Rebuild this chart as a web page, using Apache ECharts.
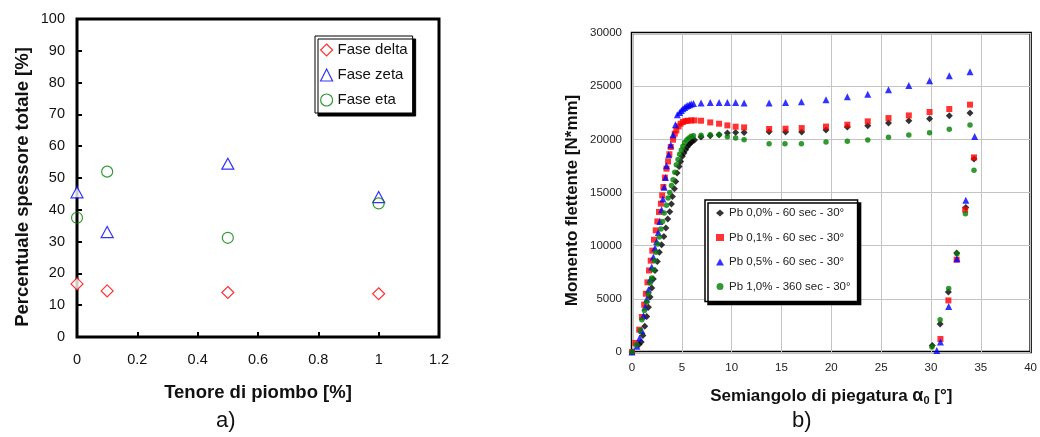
<!DOCTYPE html>
<html><head><meta charset="utf-8">
<script src="https://cdn.jsdelivr.net/npm/echarts@6/dist/echarts.min.js"></script>
<style>html,body{margin:0;padding:0;background:#fff}#c{width:1040px;height:437px}</style>
</head><body><div id="c"></div>
<script>
// ---- Chart a) ----
const leadContent = [0, 0.1, 0.5, 1];
const faseDelta = [16.7, 14.5, 14.0, 13.6];
const faseZeta = [45.5, 33.0, 54.5, 44.0];
const faseEta = [37.5, 52.0, 31.2, 42.0];

// ---- Chart b) : [angle (deg), moment (N*mm)] ----
const pb00 = [[0,0],[0.7,700],[0.92,940],[1.09,1560],[1.28,2410],[1.48,3350],[1.65,4200],[1.81,5170],[1.98,6020],[2.14,6870],[2.31,7670],[2.54,8520],[2.74,9370],[2.97,10090],[3.2,10870],[3.4,11660],[3.59,12510],[3.79,13190],[3.96,13920],[4.06,14630],[4.26,15360],[4.39,16040],[4.52,16830],[4.72,17450],[4.88,17920],[5.05,18400],[5.21,18710],[5.38,19020],[5.54,19280],[5.71,19490],[5.87,19650],[6.04,19800],[6.27,19940],[6.93,20220],[7.85,20340],[8.74,20440],[9.57,20590],[10.4,20650],[11.25,20650],[13.76,20720],[15.41,20680],[17.03,20680],[19.47,20880],[21.61,21150],[23.66,21280],[25.74,21530],[27.78,21750],[29.86,21940],[31.84,22220],[33.92,22470],[34.32,18140],[30.13,620],[30.92,2630],[31.75,5640],[32.58,9310],[33.5,13600]];
const pb01 = [[0,0],[0.33,850],[0.72,2100],[0.99,3290],[1.22,4450],[1.39,5480],[1.55,6550],[1.71,7670],[1.88,8590],[2.04,9530],[2.21,10560],[2.38,11440],[2.54,12280],[2.71,13170],[2.9,13950],[3.03,14730],[3.15,15520],[3.3,16400],[3.46,17240],[3.62,17920],[3.75,18600],[3.89,19280],[4.12,19970],[4.29,20530],[4.45,20840],[4.68,21220],[4.88,21470],[5.11,21630],[5.38,21720],[5.6,21750],[5.94,21780],[6.27,21780],[6.93,21750],[7.85,21590],[8.74,21470],[9.57,21310],[10.4,21190],[11.25,21120],[13.76,20970],[15.41,21000],[17.03,21060],[19.47,21200],[21.61,21375],[23.66,21690],[25.74,22000],[27.78,22250],[29.86,22570],[31.84,22850],[33.92,23260],[34.32,18300],[30.95,1220],[31.75,4850],[32.58,8680],[33.43,13380]];
const pb05 = [[0,0],[0.49,530],[0.76,1320],[0.99,2030],[1.15,3410],[1.32,4230],[1.48,4980],[1.65,5860],[1.81,6800],[1.98,7990],[2.14,8930],[2.31,9780],[2.47,10400],[2.64,11250],[2.8,12280],[2.97,13380],[3.1,14400],[3.23,15500],[3.36,16400],[3.46,17520],[3.69,18550],[3.89,19470],[4.12,20430],[4.36,21380],[4.55,22320],[4.78,22530],[4.95,22720],[5.11,22880],[5.28,23000],[5.44,23100],[5.6,23190],[5.77,23260],[5.94,23320],[6.17,23380],[6.93,23420],[7.85,23470],[8.74,23470],[9.57,23470],[10.4,23470],[11.25,23420],[13.76,23420],[15.41,23470],[17.0,23530],[19.47,23720],[21.61,24000],[23.66,24250],[25.74,24660],[27.78,25060],[29.86,25500],[31.84,25970],[33.92,26350],[34.39,20270],[30.59,150],[30.95,940],[31.78,4290],[32.61,8770],[33.5,14260]];
const pb10 = [[0,0],[0.43,690],[0.82,2030],[0.99,3040],[1.25,3910],[1.48,4700],[1.65,5480],[1.81,6490],[1.98,6960],[2.14,7740],[2.28,8590],[2.41,9370],[2.57,10150],[2.74,10810],[2.9,11570],[3.07,12280],[3.23,13070],[3.46,13790],[3.62,14480],[3.79,15010],[3.96,15670],[4.12,16200],[4.29,16900],[4.45,17600],[4.62,18100],[4.78,18600],[4.95,19000],[5.11,19350],[5.28,19700],[5.51,19960],[5.71,20120],[5.94,20280],[6.17,20340],[6.93,20380],[7.85,20440],[8.74,20440],[9.57,20250],[10.4,20130],[11.25,19970],[13.76,19590],[15.35,19590],[17.0,19590],[19.47,19750],[21.61,19810],[23.66,19940],[25.74,20190],[27.78,20410],[29.86,20630],[31.84,20940],[33.92,21350],[34.32,17100],[30.1,470],[30.92,3040],[31.78,5980],[32.61,9250],[33.46,13010]];

const namesA = ['Fase delta', 'Fase zeta', 'Fase eta'];
const namesB = ['Pb 0,0% - 60 sec - 30°', 'Pb 0,1% - 60 sec - 30°', 'Pb 0,5% - 60 sec - 30°', 'Pb 1,0% - 360 sec - 30°'];

const FONT = '"Liberation Sans", Arial, "DejaVu Sans", sans-serif';
const zip = (xs, ys) => xs.map((x, i) => [x, ys[i]]);

const chart = echarts.init(document.getElementById('c'), null, {renderer: 'canvas'});
const hollow = (c) => ({color: '#fff', borderColor: c, borderWidth: 1.2});

chart.setOption({
  animation: false,
  textStyle: {fontFamily: FONT},
  grid: [
    {left: 77, top: 19, width: 362, height: 318, show: true, borderColor: '#000', borderWidth: 3, backgroundColor: '#fff'},
    {left: 632, top: 33, width: 404, height: 319, show: true, borderColor: '#000', borderWidth: 2.5, backgroundColor: '#fff'}
  ],
  xAxis: [
    {gridIndex: 0, type: 'value', min: 0, max: 1.2, interval: 0.2,
     axisLine: {show: false}, splitLine: {show: false},
     axisTick: {show: true, inside: true, length: 5, lineStyle: {color: '#000', width: 2}},
     axisLabel: {color: '#111', fontSize: 14.5, margin: 15, fontFamily: FONT},
     name: 'Tenore di piombo [%]', nameLocation: 'middle', nameGap: 46,
     nameTextStyle: {fontSize: 18.5, fontWeight: 'bold', color: '#111', fontFamily: FONT}},
    {gridIndex: 1, type: 'value', min: 0, max: 40, interval: 5,
     axisLine: {show: false},
     splitLine: {show: true, lineStyle: {color: '#c4c4c4', width: 1}},
     axisTick: {show: false},
     axisLabel: {color: '#222', fontSize: 11.5, margin: 10, fontFamily: FONT},
     name: 'Semiangolo di piegatura {a|α}{s|0} [°]', nameLocation: 'middle', nameGap: 34,
     nameTextStyle: {fontSize: 17, fontWeight: 'bold', color: '#111', fontFamily: FONT,
       rich: {a: {fontSize: 18, fontWeight: 'bold', color: '#111'}, s: {fontSize: 11, fontWeight: 'bold', color: '#111', padding: [9, 0, 0, 0]}}}}
  ],
  yAxis: [
    {gridIndex: 0, type: 'value', min: 0, max: 100, interval: 10,
     axisLine: {show: false}, splitLine: {show: false},
     axisTick: {show: true, inside: true, length: 5, lineStyle: {color: '#000', width: 2}},
     axisLabel: {color: '#111', fontSize: 14.5, margin: 12, fontFamily: FONT},
     name: 'Percentuale spessore totale [%]', nameLocation: 'middle', nameGap: 45,
     nameTextStyle: {fontSize: 18.5, fontWeight: 'bold', color: '#111', fontFamily: FONT, padding: [0, 18, 0, 0]}},
    {gridIndex: 1, type: 'value', min: 0, max: 30000, interval: 5000,
     axisLine: {show: false},
     splitLine: {show: true, lineStyle: {color: '#c4c4c4', width: 1}},
     axisTick: {show: false},
     axisLabel: {color: '#222', fontSize: 11.5, margin: 10, fontFamily: FONT, formatter: (v) => String(v)},
     name: 'Momento flettente [N*mm]', nameLocation: 'middle', nameGap: 51,
     nameTextStyle: {fontSize: 17, fontWeight: 'bold', color: '#111', fontFamily: FONT, padding: [0, 16, 0, 0]}}
  ],
  legend: [
    {data: namesA, left: 315, top: 36, orient: 'vertical', itemWidth: 12, itemHeight: 12, itemGap: 9,
     padding: [6, 5, 5, 5], backgroundColor: '#fff', borderColor: '#000', borderWidth: 1,
     shadowColor: '#000', shadowBlur: 0, shadowOffsetX: 3, shadowOffsetY: 3,
     textStyle: {fontSize: 15, lineHeight: 16, color: '#111', fontFamily: FONT}, itemStyle: {borderWidth: 1.2}},
    {data: namesB, left: 705, top: 200, orient: 'vertical', itemWidth: 8, itemHeight: 7, itemGap: 12.5,
     padding: [7, 7, 9, 11], backgroundColor: '#fff', borderColor: '#000', borderWidth: 1.5,
     shadowColor: '#000', shadowBlur: 0, shadowOffsetX: 3, shadowOffsetY: 3,
     textStyle: {fontSize: 11.5, lineHeight: 12, color: '#222', fontFamily: FONT}}
  ],
  series: [
    {name: namesA[0], type: 'scatter', xAxisIndex: 0, yAxisIndex: 0, data: zip(leadContent, faseDelta),
     symbol: 'diamond', symbolSize: [12, 12], itemStyle: hollow('#ff0000')},
    {name: namesA[1], type: 'scatter', xAxisIndex: 0, yAxisIndex: 0, data: zip(leadContent, faseZeta),
     symbol: 'triangle', symbolSize: [12, 11], itemStyle: hollow('#0000ff')},
    {name: namesA[2], type: 'scatter', xAxisIndex: 0, yAxisIndex: 0, data: zip(leadContent, faseEta),
     symbol: 'circle', symbolSize: 11, itemStyle: {color: 'transparent', borderColor: '#008000', borderWidth: 1.2}},
    {name: namesB[0], type: 'scatter', xAxisIndex: 1, yAxisIndex: 1, data: pb00,
     symbol: 'diamond', symbolSize: 7, itemStyle: {color: '#000'}},
    {name: namesB[1], type: 'scatter', xAxisIndex: 1, yAxisIndex: 1, data: pb01,
     symbol: 'rect', symbolSize: 6, itemStyle: {color: '#ff0000'}},
    {name: namesB[2], type: 'scatter', xAxisIndex: 1, yAxisIndex: 1, data: pb05,
     symbol: 'triangle', symbolSize: 7, itemStyle: {color: '#0000ff'}},
    {name: namesB[3], type: 'scatter', xAxisIndex: 1, yAxisIndex: 1, data: pb10,
     symbol: 'circle', symbolSize: 5.5, itemStyle: {color: '#008000'}}
  ],
  graphic: [
    {type: 'text', left: 216, top: 410, style: {text: 'a)', font: '22px ' + FONT, fill: '#111'}},
    {type: 'text', left: 792, top: 410, style: {text: 'b)', font: '22px ' + FONT, fill: '#111'}}
  ]
});
</script></body></html>
